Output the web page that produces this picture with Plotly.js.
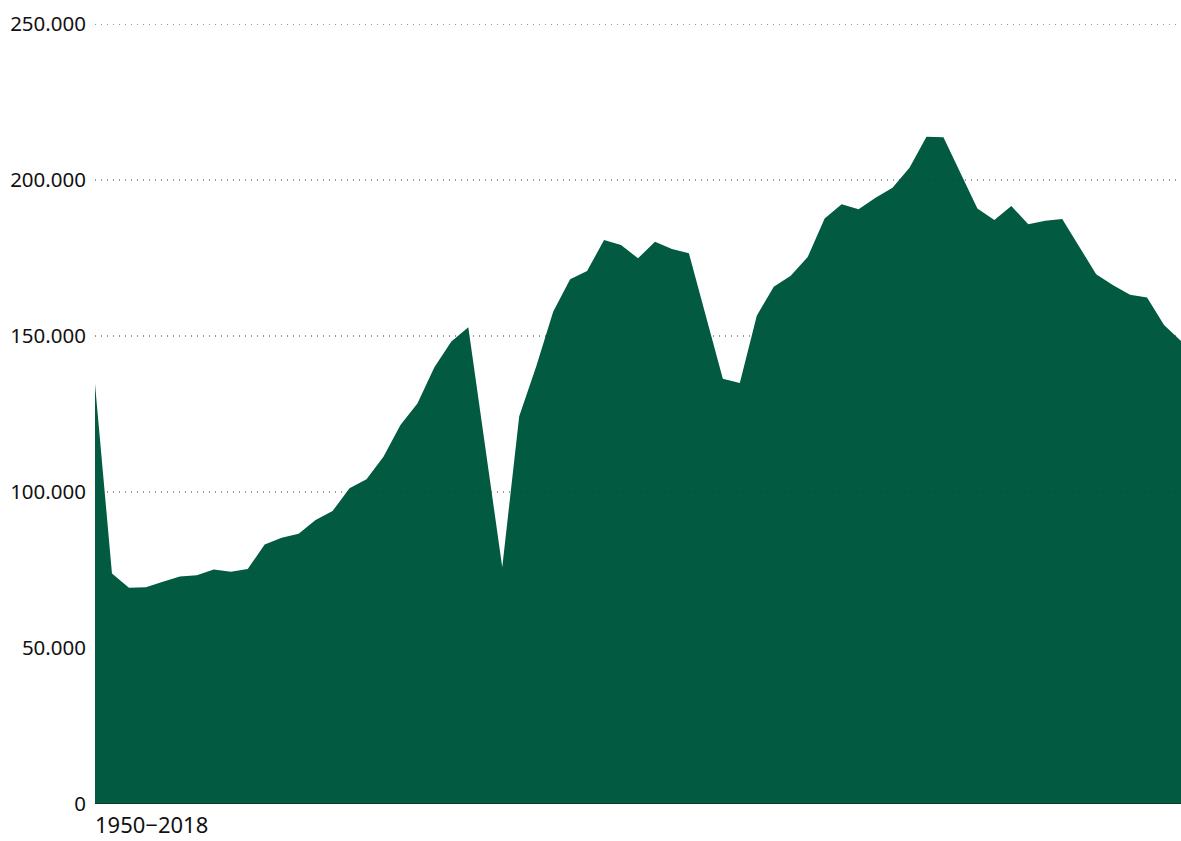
<!DOCTYPE html>
<html>
<head>
<meta charset="utf-8">
<script src="https://cdn.plot.ly/plotly-3.0.1.min.js"></script>
<style>
  html, body { margin: 0; padding: 0; background: #ffffff; }
  #chart { width: 1181px; height: 841px; }
</style>
</head>
<body>
<div id="chart"></div>
<script>
// Values (one per period, left to right)
const values = [
  134600, 73900, 69300, 69500, 71200, 72900, 73300, 75200, 74400, 75300,
  83200, 85300, 86600, 91000, 93900, 101200, 104100, 111300, 121500, 128400,
  140000, 148200, 152800, 114500, 75900, 124300, 140200, 157800, 168200, 170800,
  180800, 179200, 174900, 180200, 177900, 176500, 156000, 136300, 134900, 156500,
  165800, 169300, 175300, 187700, 192200, 190600, 194300, 197500, 203900, 213900,
  213700, 202100, 190900, 187200, 191700, 185800, 186900, 187500, 178600, 169800,
  166300, 163200, 162300, 153500, 148400
];
const periodLabel = ["1950\u22122018"];
const yTickValues = [0, 50000, 100000, 150000, 200000, 250000];
const gridValues = [50000, 100000, 150000, 200000, 250000];

const xs = values.map((_, i) => i);

const trace = {
  type: 'scatter',
  mode: 'lines',
  x: xs,
  y: values,
  fill: 'tozeroy',
  fillcolor: '#025A40',
  line: { width: 0, color: '#025A40' },
  hoverinfo: 'skip'
};

const shapes = gridValues.map(v => ({
  type: 'line', xref: 'paper', yref: 'y', x0: 0, x1: 1, y0: v, y1: v,
  layer: 'above',
  line: { color: '#333333', width: 1, dash: '1px,5px' }
}));
shapes.push({
  type: 'line', xref: 'paper', yref: 'y', x0: 0, x1: 1, y0: 0, y1: 0,
  layer: 'above', line: { color: '#1a1a1a', width: 1 }
});

const layout = {
  width: 1181,
  height: 841,
  margin: { l: 95, r: 0, t: 24, b: 37, pad: 0 },
  paper_bgcolor: '#ffffff',
  plot_bgcolor: '#ffffff',
  separators: ',.',
  showlegend: false,
  font: { family: 'Noto Sans, sans-serif', size: 20, color: '#111111' },
  xaxis: {
    range: [0, values.length - 1],
    showgrid: false,
    zeroline: false,
    showline: false,
    ticks: '',
    tickmode: 'array',
    tickvals: [0],
    ticktext: periodLabel,
    ticklabelposition: 'outside right',
    ticklabelstandoff: 6,
    tickfont: { size: 22, color: '#111111' },
    fixedrange: true
  },
  yaxis: {
    range: [0, 250000],
    showgrid: false,
    zeroline: false,
    showline: false,
    ticks: '',
    tickmode: 'array',
    tickvals: yTickValues,
    tickformat: ',d',
    ticklabelstandoff: 8,
    tickfont: { size: 20.5, color: '#111111' },
    fixedrange: true
  },
  shapes: shapes
};

Plotly.newPlot('chart', [trace], layout, { displayModeBar: false, staticPlot: true });
</script>
</body>
</html>
